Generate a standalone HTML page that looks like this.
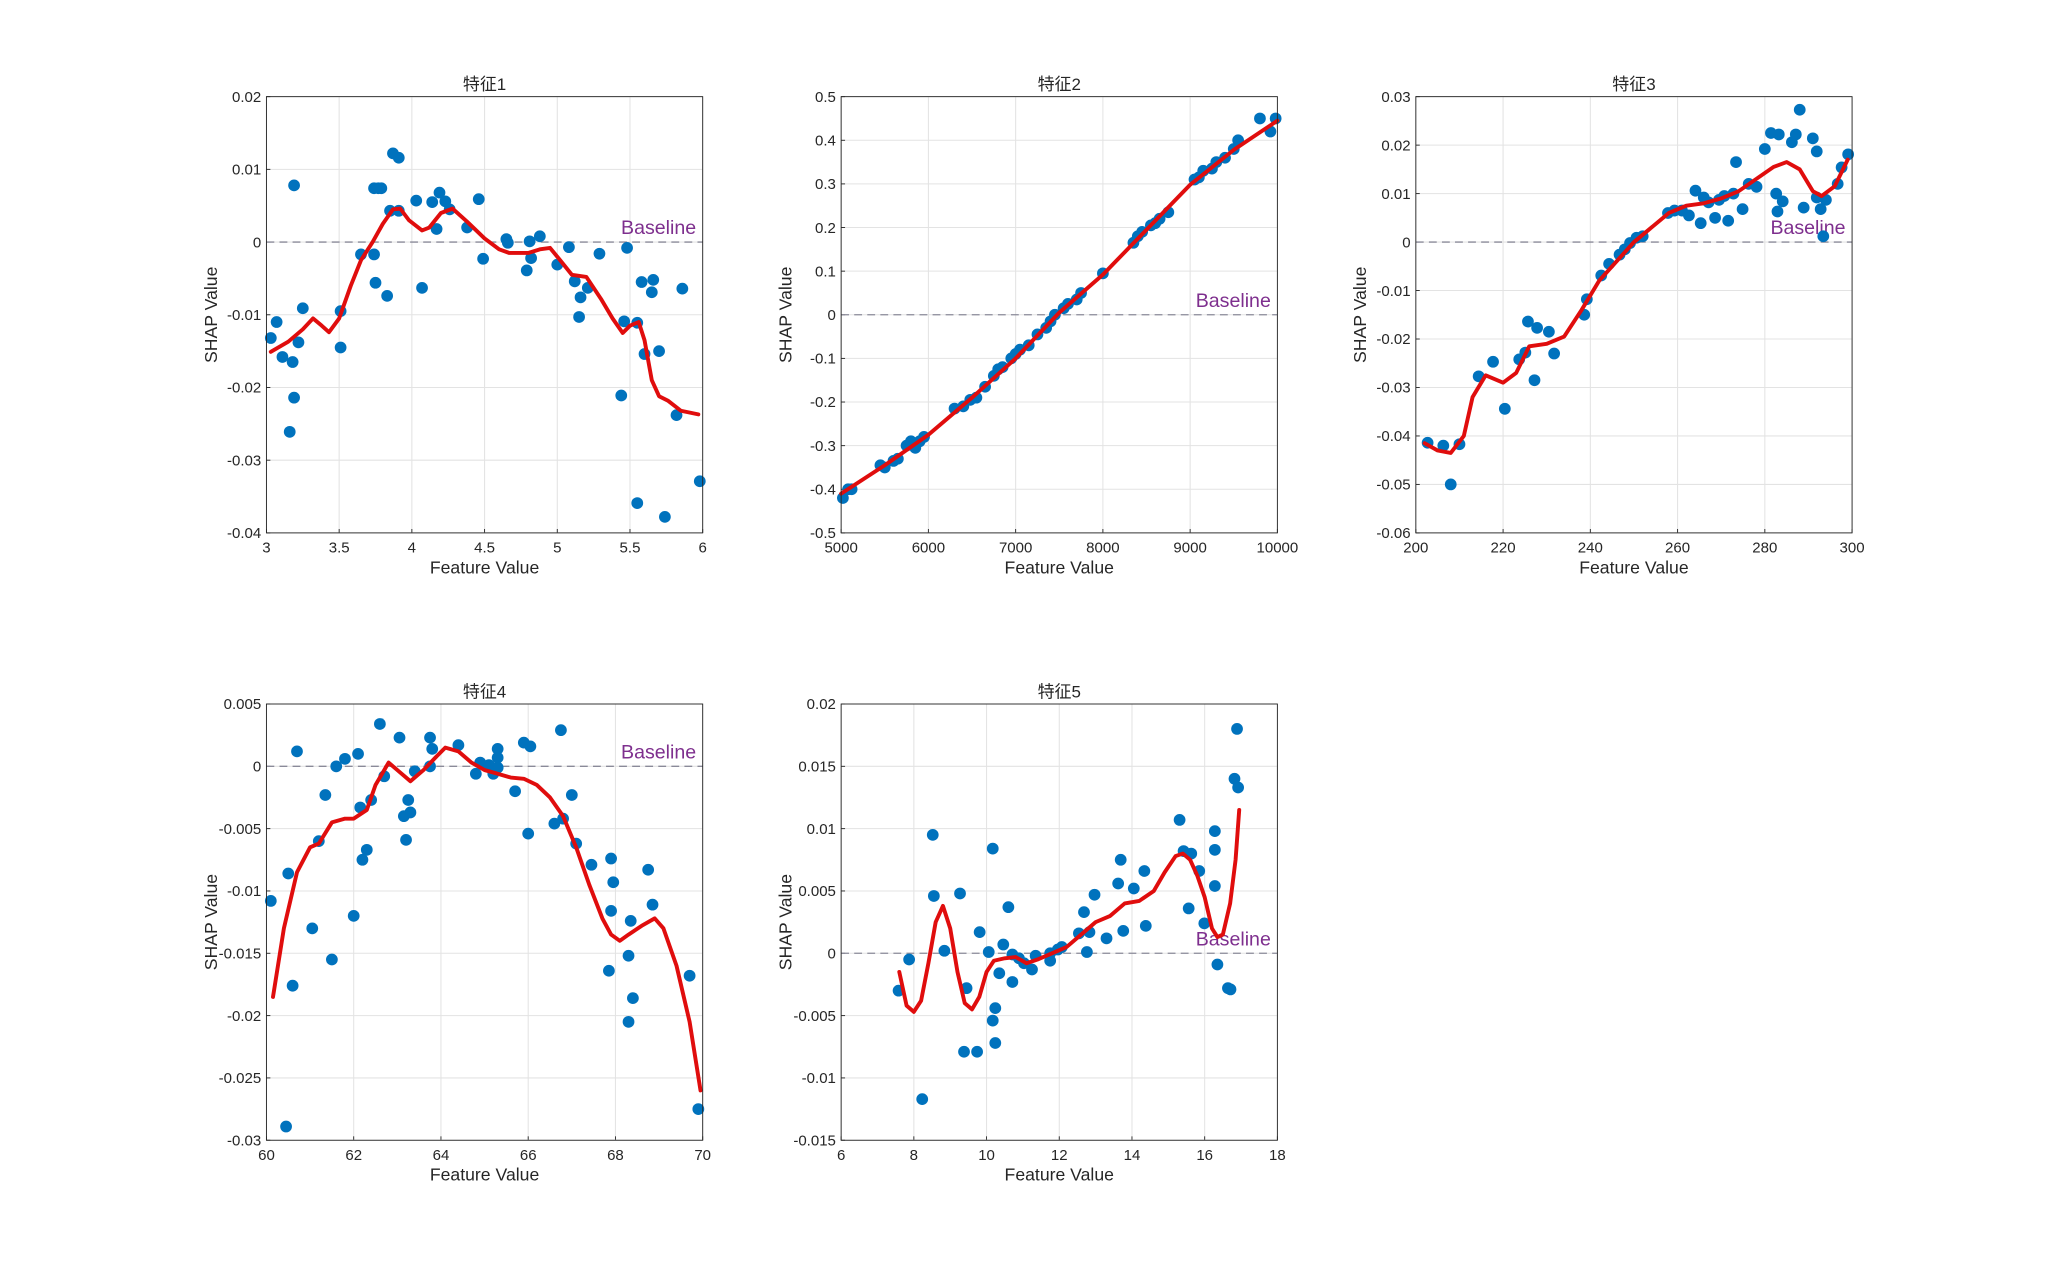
<!DOCTYPE html>
<html><head><meta charset="utf-8"><title>SHAP dependence</title>
<style>
html,body{margin:0;padding:0;background:#fff;}
svg{display:block;font-family:"Liberation Sans","Noto Sans CJK SC",sans-serif;}
</style></head>
<body>
<svg id="chart" width="2048" height="1280" viewBox="0 0 1568 980" xmlns="http://www.w3.org/2000/svg"></svg>
<script>
// ---------- Panel 1 data ----------
const p1X=[3.03,3.07,3.11,3.18,3.19,3.16,3.19,3.22,3.25,3.51,3.51,3.65,3.74,3.74,3.77,3.79,3.75,3.83,3.85,3.87,3.91,3.91,4.03,4.07,4.14,4.17,4.19,4.23,4.26,4.38,4.46,4.49,4.65,4.66,4.79,4.81,4.82,4.88,5.0,5.08,5.12,5.16,5.15,5.21,5.29,5.44,5.46,5.48,5.55,5.55,5.58,5.60,5.65,5.66,5.70,5.74,5.82,5.86,5.98];
const p1Y=[-0.0132,-0.0110,-0.0158,-0.0165,-0.0214,-0.0261,0.0078,-0.0138,-0.0091,-0.0095,-0.0145,-0.0017,-0.0017,0.0074,0.0074,0.0074,-0.0056,-0.0074,0.0043,0.0122,0.0116,0.0043,0.0057,-0.0063,0.0055,0.0018,0.0068,0.0056,0.0045,0.0020,0.0059,-0.0023,0.0004,-0.0001,-0.0039,0.0001,-0.0022,0.0008,-0.0031,-0.0007,-0.0054,-0.0076,-0.0103,-0.0063,-0.0016,-0.0211,-0.0109,-0.0008,-0.0111,-0.0359,-0.0055,-0.0154,-0.0069,-0.0052,-0.0150,-0.0378,-0.0238,-0.0064,-0.0329];
const p1CX=[3.03,3.15,3.25,3.32,3.38,3.43,3.5,3.58,3.65,3.73,3.8,3.87,3.92,3.98,4.07,4.12,4.2,4.28,4.38,4.5,4.6,4.67,4.8,4.88,4.95,5.02,5.1,5.2,5.3,5.38,5.45,5.5,5.56,5.6,5.65,5.7,5.76,5.85,5.97];
const p1CY=[-0.0151,-0.0137,-0.0120,-0.0105,-0.0115,-0.0124,-0.0105,-0.0060,-0.0025,0.0,0.0025,0.0045,0.0046,0.0030,0.0016,0.0020,0.0040,0.0046,0.0028,0.0005,-0.0010,-0.0015,-0.0015,-0.0010,-0.0008,-0.0025,-0.0045,-0.0048,-0.0078,-0.0105,-0.0125,-0.0115,-0.0110,-0.0135,-0.0190,-0.0212,-0.0218,-0.0232,-0.0237];
const p1XT=[3,3.5,4,4.5,5,5.5,6];
const p1XL=["3","3.5","4","4.5","5","5.5","6"];
const p1YT=[0.02,0.01,0,-0.01,-0.02,-0.03,-0.04];
const p1YL=["0.02","0.01","0","-0.01","-0.02","-0.03","-0.04"];
// ---------- Panel 2 data ----------
const p2X=[5020,5080,5120,5450,5500,5600,5650,5750,5800,5850,5900,5950,6300,6400,6480,6550,6650,6750,6800,6850,6950,7000,7050,7150,7250,7350,7400,7450,7550,7600,7700,7750,8000,8350,8400,8450,8550,8600,8650,8750,9050,9100,9150,9250,9300,9400,9500,9550,9800,9920,9980];
const p2Y=[-0.42,-0.40,-0.40,-0.345,-0.35,-0.335,-0.33,-0.30,-0.29,-0.305,-0.29,-0.28,-0.215,-0.21,-0.195,-0.19,-0.165,-0.14,-0.125,-0.12,-0.10,-0.09,-0.08,-0.07,-0.045,-0.03,-0.015,0.0,0.015,0.025,0.035,0.05,0.095,0.165,0.18,0.19,0.205,0.21,0.22,0.235,0.31,0.315,0.33,0.335,0.35,0.36,0.38,0.40,0.45,0.42,0.45];
const p2CX=[5000,5500,6000,6500,7000,7500,8000,8500,9000,9500,10000];
const p2CY=[-0.41,-0.345,-0.275,-0.19,-0.10,0.005,0.092,0.195,0.298,0.378,0.445];
const p2XT=[5000,6000,7000,8000,9000,10000];
const p2XL=["5000","6000","7000","8000","9000","10000"];
const p2YT=[0.5,0.4,0.3,0.2,0.1,0,-0.1,-0.2,-0.3,-0.4,-0.5];
const p2YL=["0.5","0.4","0.3","0.2","0.1","0","-0.1","-0.2","-0.3","-0.4","-0.5"];
// ---------- Panel 3 data ----------
const p3X=[202.7,206.3,208,210,214.4,217.7,220.4,223.7,225.1,225.7,227.2,227.8,230.5,231.7,238.6,239.2,242.5,244.3,246.7,247.9,249.1,250.6,252,257.8,259.3,261,262.6,264.1,265.3,266,267.1,268.6,269.5,270.7,271.6,272.8,273.4,274.9,276.3,278.1,280,281.4,283.2,282.6,282.9,284.1,286.2,287.1,288,288.9,291,291.9,291.9,292.8,293.4,294,296.7,297.6,299.1];
const p3Y=[-0.0414,-0.042,-0.050,-0.0417,-0.0277,-0.0247,-0.0344,-0.0242,-0.0228,-0.0164,-0.0285,-0.0177,-0.0185,-0.023,-0.015,-0.0118,-0.0069,-0.0045,-0.0026,-0.0015,-0.0002,0.0009,0.0012,0.006,0.0065,0.0065,0.0055,0.0106,0.0039,0.0092,0.0082,0.005,0.0087,0.0095,0.0044,0.010,0.0165,0.0068,0.012,0.0114,0.0192,0.0225,0.0222,0.010,0.0063,0.0084,0.0206,0.0222,0.0273,0.0071,0.0214,0.0187,0.0092,0.0068,0.0012,0.0087,0.012,0.0154,0.0181];
const p3CX=[202,205,208,211,213,216,220,223,226,230,234,238,242,246,250,254,258,262,266,270,274,278,282,285,288,291,293,296,299];
const p3CY=[-0.0415,-0.043,-0.0435,-0.040,-0.032,-0.0275,-0.029,-0.027,-0.0215,-0.021,-0.0195,-0.014,-0.008,-0.004,0.0,0.003,0.006,0.0075,0.008,0.009,0.0105,0.013,0.0155,0.0165,0.015,0.0105,0.0095,0.0115,0.017];
const p3XT=[200,220,240,260,280,300];
const p3XL=["200","220","240","260","280","300"];
const p3YT=[0.03,0.02,0.01,0,-0.01,-0.02,-0.03,-0.04,-0.05,-0.06];
const p3YL=["0.03","0.02","0.01","0","-0.01","-0.02","-0.03","-0.04","-0.05","-0.06"];
// ---------- Panel 4 data ----------
const p4X=[60.1,60.45,60.5,60.6,60.7,61.05,61.2,61.35,61.5,61.6,61.8,62.0,62.1,62.15,62.2,62.3,62.4,62.6,62.7,63.05,63.15,63.2,63.25,63.3,63.4,63.75,63.8,63.75,64.4,64.8,64.9,65.1,65.2,65.3,65.3,65.3,65.7,65.9,66.05,66.0,66.6,66.75,66.8,67.0,67.1,67.45,67.85,67.9,67.9,67.95,68.3,68.3,68.35,68.4,68.75,68.85,69.7,69.9];
const p4Y=[-0.0108,-0.0289,-0.0086,-0.0176,0.0012,-0.013,-0.006,-0.0023,-0.0155,0.0,0.0006,-0.012,0.001,-0.0033,-0.0075,-0.0067,-0.0027,0.0034,-0.0008,0.0023,-0.004,-0.0059,-0.0027,-0.0037,-0.0004,0.0023,0.0014,0.0,0.0017,-0.0006,0.0003,0.0001,-0.0006,0.0014,0.0007,-0.0001,-0.002,0.0019,0.0016,-0.0054,-0.0046,0.0029,-0.0042,-0.0023,-0.0062,-0.0079,-0.0164,-0.0074,-0.0116,-0.0093,-0.0152,-0.0205,-0.0124,-0.0186,-0.0083,-0.0111,-0.0168,-0.0275];
const p4CX=[60.15,60.4,60.7,61.0,61.2,61.5,61.8,62.0,62.3,62.5,62.8,63.0,63.3,63.6,63.9,64.1,64.4,64.7,65.0,65.3,65.6,65.9,66.2,66.5,66.8,67.1,67.4,67.7,67.9,68.1,68.3,68.6,68.9,69.1,69.4,69.7,69.95];
const p4CY=[-0.0185,-0.013,-0.0085,-0.0065,-0.0062,-0.0045,-0.0042,-0.0042,-0.0035,-0.0015,0.0003,-0.0003,-0.0012,-0.0003,0.0008,0.0015,0.0012,0.0003,-0.0003,-0.0006,-0.0009,-0.001,-0.0015,-0.0025,-0.004,-0.0065,-0.0095,-0.0122,-0.0135,-0.014,-0.0135,-0.0128,-0.0122,-0.013,-0.016,-0.0205,-0.026];
const p4XT=[60,62,64,66,68,70];
const p4XL=["60","62","64","66","68","70"];
const p4YT=[0.005,0,-0.005,-0.01,-0.015,-0.02,-0.025,-0.03];
const p4YL=["0.005","0","-0.005","-0.01","-0.015","-0.02","-0.025","-0.03"];
// ---------- Panel 5 data ----------
const p5X=[7.58,7.87,8.23,8.52,8.55,8.84,9.27,9.38,9.45,9.74,9.81,10.06,10.17,10.17,10.24,10.24,10.35,10.46,10.6,10.71,10.71,10.89,11.03,11.25,11.35,11.75,11.75,11.96,12.07,12.54,12.68,12.76,12.83,12.97,13.3,13.62,13.69,13.76,14.05,14.34,14.38,15.31,15.42,15.56,15.63,15.85,15.99,16.28,16.28,16.28,16.35,16.64,16.71,16.82,16.89,16.92];
const p5Y=[-0.003,-0.0005,-0.0117,0.0095,0.0046,0.0002,0.0048,-0.0079,-0.0028,-0.0079,0.0017,0.0001,0.0084,-0.0054,-0.0072,-0.0044,-0.0016,0.0007,0.0037,-0.0023,-0.0001,-0.0004,-0.0008,-0.0013,-0.0002,-0.0006,0.0,0.0003,0.0005,0.0016,0.0033,0.0001,0.0017,0.0047,0.0012,0.0056,0.0075,0.0018,0.0052,0.0066,0.0022,0.0107,0.0082,0.0036,0.008,0.0066,0.0024,0.0098,0.0083,0.0054,-0.0009,-0.0028,-0.0029,0.014,0.018,0.0133];
const p5CX=[7.6,7.8,8.0,8.2,8.4,8.6,8.8,9.0,9.2,9.4,9.6,9.8,10.0,10.2,10.5,10.8,11.1,11.4,11.8,12.2,12.6,13.0,13.4,13.8,14.2,14.6,14.9,15.2,15.4,15.6,15.8,16.0,16.2,16.35,16.5,16.7,16.85,16.95];
const p5CY=[-0.0015,-0.0042,-0.0047,-0.0038,-0.0008,0.0025,0.0038,0.002,-0.0015,-0.004,-0.0045,-0.0035,-0.0015,-0.0006,-0.0004,-0.0003,-0.0008,-0.0005,0.0,0.0005,0.0015,0.0025,0.003,0.004,0.0042,0.005,0.0065,0.0078,0.008,0.0075,0.0062,0.0045,0.002,0.0013,0.0015,0.004,0.0075,0.0115];
const p5XT=[6,8,10,12,14,16,18];
const p5XL=["6","8","10","12","14","16","18"];
const p5YT=[0.02,0.015,0.01,0.005,0,-0.005,-0.01,-0.015];
const p5YL=["0.02","0.015","0.01","0.005","0","-0.005","-0.01","-0.015"];

const NS="http://www.w3.org/2000/svg";
const svg=document.getElementById('chart');
function mk(tag,attrs,parent){const e=document.createElementNS(NS,tag);for(const k in attrs)e.setAttribute(k,attrs[k]);(parent||svg).appendChild(e);return e;}

function panel(id,title,box,xDom,yDom,xs,ys,cx,cy,xt,xl,yt,yl){
  const [L,T,R,B]=box;
  const sx=v=>L+(v-xDom[0])/(xDom[1]-xDom[0])*(R-L);
  const sy=v=>B-(v-yDom[0])/(yDom[1]-yDom[0])*(B-T);
  const g=mk('g',{});
  
  
  const bg=mk('rect',{x:L,y:T,width:R-L,height:B-T,fill:'#fff'},g);
  
  
  xt.forEach((v,i)=>{
    const x=sx(v);
    const gl=mk('line',{x1:x,x2:x,y1:T,y2:B,stroke:'#e3e3e3','stroke-width':0.8},g);
    
    
    mk('line',{x1:x,x2:x,y1:B,y2:B-3,stroke:'#262626','stroke-width':0.7},g);
    const t=mk('text',{x:x,y:B+15,'text-anchor':'middle','font-size':11.5,fill:'#262626'},g);
    t.textContent=xl[i];
    
    
  });
  yt.forEach((v,i)=>{
    const y=sy(v);
    const gl=mk('line',{x1:L,x2:R,y1:y,y2:y,stroke:'#e3e3e3','stroke-width':0.8},g);
    
    
    mk('line',{x1:L,x2:L+3,y1:y,y2:y,stroke:'#262626','stroke-width':0.7},g);
    const t=mk('text',{x:L-4,y:y+4,'text-anchor':'end','font-size':11.5,fill:'#262626'},g);
    t.textContent=yl[i];
    
    
  });
  const y0=sy(0);
  const bl=mk('line',{x1:L,x2:R,y1:y0,y2:y0,stroke:'#8a8a99','stroke-width':1,'stroke-dasharray':'6,4'},g);
  
  
  const bt=mk('text',{x:R-5,y:y0-6,'text-anchor':'end','font-size':15,fill:'#7E2F8E'},g);
  bt.textContent='Baseline';
  
  
  xs.forEach((v,i)=>{
    const c=mk('circle',{cx:sx(v),cy:sy(ys[i]),r:4.5,fill:'#0072BD'},g);
    
    
  });
  const pts=cx.map((v,i)=>sx(v).toFixed(2)+','+sy(cy[i]).toFixed(2)).join(' ');
  const pl=mk('polyline',{points:pts,fill:'none',stroke:'#e00d0d','stroke-width':3,'stroke-linejoin':'round','stroke-linecap':'round'},g);
  
  
  const fr=mk('rect',{x:L,y:T,width:R-L,height:B-T,fill:'none',stroke:'#262626','stroke-width':0.7},g);
  
  
  const tt=mk('text',{x:(L+R)/2,y:T-5,'text-anchor':'middle','font-size':13,fill:'#262626'},g);
  tt.textContent=title;
  
  
  const xa=mk('text',{x:(L+R)/2,y:B+31,'text-anchor':'middle','font-size':13.5,fill:'#262626'},g);
  xa.textContent='Feature Value';
  
  
  const yx=L-38, yy=(T+B)/2;
  const ya=mk('text',{x:yx,y:yy,'text-anchor':'middle','font-size':13.5,fill:'#262626',transform:'rotate(-90 '+yx+' '+yy+')'},g);
  ya.textContent='SHAP Value';
  
  
}
panel('panel-feature-1','特征1',[204,74,538,408],[3,6],[-0.04,0.02],p1X,p1Y,p1CX,p1CY,p1XT,p1XL,p1YT,p1YL);
panel('panel-feature-2','特征2',[644,74,978,408],[5000,10000],[-0.5,0.5],p2X,p2Y,p2CX,p2CY,p2XT,p2XL,p2YT,p2YL);
panel('panel-feature-3','特征3',[1084,74,1418,408],[200,300],[-0.06,0.03],p3X,p3Y,p3CX,p3CY,p3XT,p3XL,p3YT,p3YL);
panel('panel-feature-4','特征4',[204,539,538,873],[60,70],[-0.03,0.005],p4X,p4Y,p4CX,p4CY,p4XT,p4XL,p4YT,p4YL);
panel('panel-feature-5','特征5',[644,539,978,873],[6,18],[-0.015,0.02],p5X,p5Y,p5CX,p5CY,p5XT,p5XL,p5YT,p5YL);
</script>
</body></html>
